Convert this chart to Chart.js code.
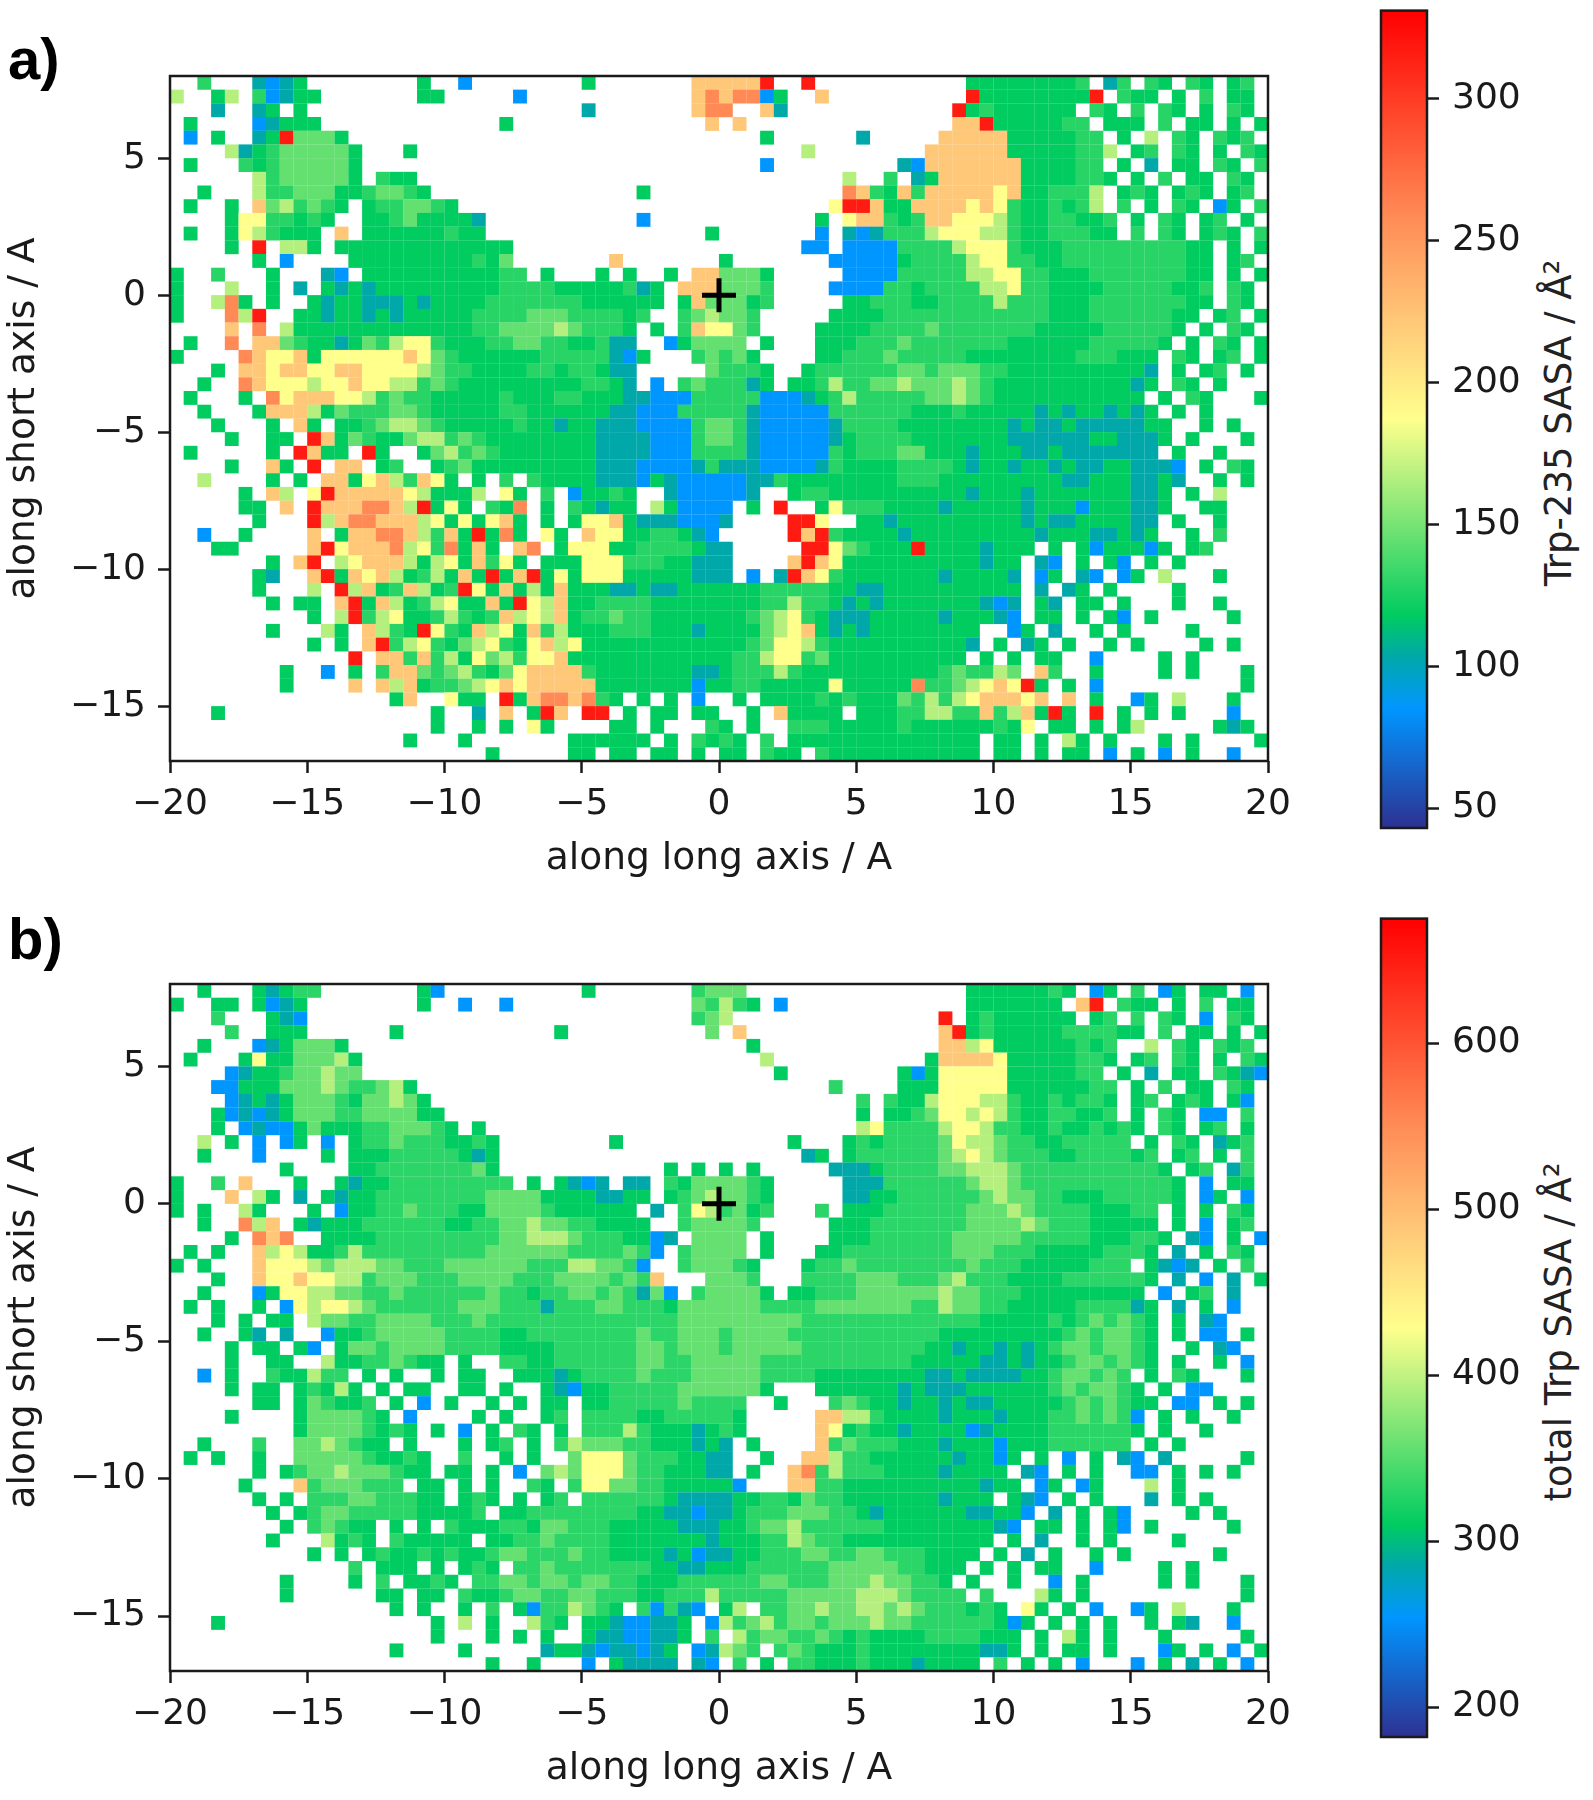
<!DOCTYPE html>
<html>
<head>
<meta charset="utf-8">
<style>
  body { margin: 0; background: #fff; width: 1593px; height: 1800px; position: relative; overflow: hidden; }
  canvas { position: absolute; }
  .panel { position: absolute; left: 8px; font: bold 58px "Liberation Sans", sans-serif; color: #000; line-height: 60px; }
  .cbar { position: absolute; font: 37px "DejaVu Sans", sans-serif; color: #222; white-space: nowrap; transform: translate(-50%, -50%) rotate(-90deg); }
</style>
<script src="https://cdn.jsdelivr.net/npm/chart.js@4"></script>
</head>
<body>
<div class="panel" style="top:29px">a)</div>
<div class="panel" style="top:909px">b)</div>
<div class="cbar" style="left:1558px;top:423px">Trp-235 SASA / Å²</div>
<div class="cbar" style="left:1558px;top:1332px">total Trp SASA / Å²</div>
<canvas id="heatA" style="left:0;top:0"></canvas>
<canvas id="barA" style="left:1300px;top:-24px"></canvas>
<canvas id="heatB" style="left:0;top:908px"></canvas>
<canvas id="barB" style="left:1300px;top:884px"></canvas>
<script>
// tick labels
const longAxisTicks = [-20, -15, -10, -5, 0, 5, 10, 15, 20];
const shortAxisTicks = [-15, -10, -5, 0, 5];
const barTicksA = [50, 100, 150, 200, 250, 300];
const barTicksB = [200, 300, 400, 500, 600];

// colour bar ranges
const rangeA = [43, 331];
const rangeB = [182, 675];

// SASA value for each letter used in the rows below
const codes = 'btghmlyorR';
const valuesA = [85, 103, 118, 129, 145, 167, 187, 222, 259, 317];
const valuesB = [254, 285, 310, 330, 357, 394, 428, 488, 552, 650];

// colour map, position along the bar and colour
const cmapPos = [0, 0.146, 0.21, 0.26, 0.5, 0.62, 0.75, 1];
const cmapRgb = [[46,49,146],[0,150,255],[0,168,168],[0,204,96],[255,255,140],[255,200,120],[255,138,85],[255,0,0]];

// cell size in angstrom, first cell is top left
const cellSize = 0.5;
const crossX = [0];
const crossY = [0];

// a) Trp-235 SASA, one string per row from y=8 downwards, groups of 10 cells
const rowsA = [
"..h...tbtg ........g. .b........ g.......oo oooR..R... ........gg ggggggh.th .hg.hg.gh.",
"l..gl.hbtg g.......gg .....b.... ........or orrbg..o.. ........Rg gggggggR.h gg.g.h.gg.",
"...t..tg.g .......... .......... t.......or r..ot..... .......Rgh gggggg.hg. h.hg.g.hg.",
".g....btgg g......... ....g..... .........o .o........ .......ooR ggggghh.gg g.h.gg.g.g",
".b.g..tgRm mmg....... .......... .......... ...g...... t.....oooo oggggghh.g .l.hg.hgh.",
"....ltghmm mmmg...g.. .......... .......... ......l... .....ooooo oggggghhl. gh.hg.g.hg",
".g...hghmm mmmg...... .......... .......... ...b...... ...tbooooo oogggghh.g .t.gg.hg.h",
"......lhmm mmmg.hgg.. .......... .......... .........l ..h.tgoooo oogggghhg. g.h.gg.hg.",
"..g...lhhm mmgghmmhg. .......... ....g..... .........r ohgohooooo yogghhhl.g hg.ghg.gh.",
".g..g.omlh mhg.ghhmmh g......... .......... ........yR Roggooooyo yhgghghl.h .g.hg.bg.h",
"....gyyhhg hg..gghmgg ggt....... ....b..... .......g.y oohghooyyy lhgghhggh. g.hg.gh.g.",
".g..gylhgg g.o.gggggg hgg....... .........g .......b.t bthhhlyyyl lhgghhhgg. h.hg.ghg.h",
"....g.R.ll g.gggggggg ggggg..... .......... ......bb.b bbbhhhhlyy yhggghhhhh hhhhgg.g.g",
"......g.b. ...ggggggg gghgm..... ..o....... g.......bb bbbghhhhly yhhgghhhhh hhhhgg.gh.",
"g..h...g.. .tb.gggggg gggghh.g.. .g.g..g.oo mmmg.....b bbbhhhhhll yyhhggghhh hhhhgg.g.g",
"g...l..g.t .gtgtggggg gggghhhhgg ggghtg.ooo mmmh....bb bbhhghhhhl lyhhgggghh hhhggh.hg.",
"g..lrg.g.. gtggtttgtg ggghhhhhhh gggggg.gom mmgh.....g ghhhgghhhh lhhhggghhh hhhhgg.hg.",
"g...rlR..g gtggtgtggg gghhhhmmmh hhhgh..hml mmh.....gg gghhhhhhhh hhhhggghhh hhhgg.gh.g",
"....o.r.lg gggggggggg gghhmmmmlm hhhg.g.hoy ymh....ggg ghhhhmhhhh hhhggggghh hhhg.g.hg.",
".g..r.oomh ggtgmhlyyh ggghhmmhhg ghtt..bgmm mm.g...ggg hhhmhhhhhh hgggggghhh hhg.g.hg.g",
"g....royyo gyyyyyyoym hgggggghhh hhtbg...hm hmg....ggh hhmhhhhhgg gggggghhhg gg.hg.gh.g",
"...g.ooyoo yyooyyyylm hhgggghhgh hgtt.....m hhhg..ghhh hhhmmhmmmh hggggggggg gt.g.gh.g.",
"..g..royyy lyyoyyllhm hggggggggg hhgt.b.hmh hhtg.gghlh hmmlmmmlmh gggggggggg tg.hg.g...",
".g...g.ryo ooyylhmhhg gggghggghh gggttbbbhh hhhbbbtghl hhhhhmmlmh gggggggggg g.g.hg...g",
"..g...gooo lgmhhhmmhg gggghhgggg ggttbbbhhh hhtbbbbbhh hhhhggghgg gggtgtggtg tg.g.g....",
"...g...g.o g.gghmllmh ggggghggtg gtttbbbbhm mhtbbbbbth hhhggggggg gtgttgtttt tgg..g.g..",
"....g..gg. Rogmhggmll hmhggggggg gttttbbbhm mhtbbbbbtg hhhhgggggg gttttttggt ttg.g...g.",
".g.....g.R ogg.Rg..gm lhmhgggggg gttttbbbhh hhtbbbbbhg hhhmmgggtg ggttgttttt tt.g..g...",
"....g..og. R.oo.gh..g hmgggggggg gtttbbbbth tttbbbbthg ggghhhhgtg gtggtgttgg tttb.g.hg.",
"..l....g.g .oogyolhoy g.g.h.hggg gtttbgtbbb bbtthggggg ggghhhgggg gggggttggg ttgt..g.g.",
".....g.ol. yRoooooylg ggl.yg.h.b gghg..tbbb bbt..ghhgg ggggggggtg ggtggggggg ttg.g.l...",
".....gg.o. RooorrolRg yg.hgr.g.h gtgg.lgbbb b.g.R..gyh hhggggtggg ggtgggbggg ttg..gg...",
"......g... Rlorroooly gygyog.g.g yyogtttbbb t....RRy.. ggtggggggg ggtgttgggg tt.g..g...",
"..b..g.... o.goorrolh ogRgrg.yg. oyygghhgtb .....RoRhg gggtgggggg gggtgggttg tg..g.h...",
"...gg..... oRyooorlyh rgog.or.gy yygghhhhgt t.....RRym hgggRggggt ggg.g.gbgg gbg.gh....",
".......g.o R.lyooolgl ygohyg.ggg yyyhhhggtt t....oRoyg gggggggggt gg.tb.g.gb .g.g......",
"......gt.. oRgoyolghl gogRgoRgyg yyygggggtt t.b.tRoyhg ggggggtggg gt.bg.tb.b g.l...g...",
"......g... l.Rlogholg hRygoglgog ggttgttggg ggghhhhhgg ttgggggggg gg.t.tg.g. ...g......",
".......g.g g.oRgolghl yggogRylog ghhhhggggg ggghhlhhgt gtgggggggt bt.gt.gg.g ...g..g...",
".......... g.lRhlyggh lhgholylog hhmhhggggg gghmlyhgtt tgggggtggg tb.gg.g.gb .g.....g..",
".......g.. .lg.olhgRy hgolygohlg gghhhgggtg gggmlyogtg tgggggggg. .bg.t..g.g ....g.....",
".......... g.g.oRhlyh gmlyhgyoly gggggggggg gghmyylhgg ggggggggt. g.tg.g..g. g....g.g..",
".......... ...R.oohoh lgymlhyyog gggggggggg ghhlyyhmgg gggggggg.g .g.gg..b.. ..g.g.....",
"........g. .b.g.hoomh mlhgmyoooo hgggggggtt ghhhlhgggg gggggghmhh lm.oh..g.. ..g.g...g.",
"........g. ...o.ologh hmlyoyoooo ogggggggbg ghhgggggyg ggggrhhmly oyRg.g.b.. ........g.",
".......... ......go.. ygg.Rgorro rhg.g.g.b. .g.gggghgh gggmhlhlyo ooyo.o.g.. bg.l...g..",
"...g...... .........g ..t.o.gRo. RR.g.gg.gg ..g.ogggg. ggghhllhho hlogRg.R.g .g.g...b..",
".......... .........g ..g.g.yg.. ..gg.g...h g.g..hhhgg ggghgggggg hgy.gg.g.g l.....gtg.",
".......... .......g.. .g.......g ggggg.g.hg hg.h.ggggg ggggggggg. gg.g.lg.g. ..g.g....g",
".......... .......... ...g.....g g.gg.gg.g. gg.hgg.hgg ggggggggg. gg.g.gg.b. g.b.g..b.."
];

// b) total Trp SASA, same layout
const rowsB = [
"..g...gtgh h.......gb .......... g.......hm mm........ ........gg gggghg.bg. h.bg.gg.b.",
"g..gg.gbtg ........g. .b..b..... ........mh lhg.b..... ........gg ggggg.oR.h gg.g.h.gg.",
"...h...gtb .......... .......... ........hm l......... ......R.gh gggggg.gh. h.hg.b.hg.",
"....h..ggg ......g... ........g. .........m .o........ ......oRgh ggggghhhhg g.h.gg.g.g",
"..g...btgm mmg....... .......... .......... ..g....... ......ooly gggggghgh. .l.hg.hgh.",
".g...gyggm mmlg...... .......... .......... ...l...... .....goooo yggggghhg. gh.hg.g.hg",
"....btgghm mlmm...... .......... .......... ....g..... ...gbgyyyy yggggghh.g .t.gg.hgtb",
"...bbgggmm mlmhhmlg.. .......... .......... ........h. ...gggyyyy ygggggghh. g.h.gg.hg.",
"....btgtgm mmhgmmlmg. .......... .......... .......... h.hgglyyyl lhgghghhg. gh.ghg.gb.",
"...gbtbtgm mmhhmmmmgg .......... .......... .......... g.gghmyyly lhgghhggh. g.hg.bb.h.",
"...g.btbbg mggghhmmmh g.g....... .......... .......... lyhhhhlyyl hhgghgghgh g.hg.gh.g.",
"..l.g.b.bg .b.ghhmhhh gghg...... ..g....... .....g...g hghhhhmyll mhhgghhhhh .g.hg.tgh.",
"..g...b... .g.ggghhhh hgtg...... .......... ......tg.g hhhhhhmlyl mhhhgghhhh gh.gh.g.h.",
"........g. ...gghhhhh hhmg...... ......g.g. g.g.....tt tghhhhmmll lmhhhhhhhh hhg.gh.th.",
"g..h.o...g ..gtgghhhh hhhhh.g.gt bt.tt.hgmm mmhg.....t tthhhhhhml lmhhhhhhhh hhhg.b.gg.",
"g...o.lg.t .gtgghhhhh hhhmmmmggg gttgg.ghml mmhg.....t tgghhhhhhm lmmhhggghh hhhg.bg.b.",
"g.g..lg... g.bgghhmhh hggmmmmhgg gggg.t.hyl hmgh...h.g gghhhhhhmm mlmhhhhggg hh.g.g.hg.",
"..g..rlo.g tggghhhhhh gghhmmlmmh hgggg..hmm mmh.....gg ghhhhhhhmm mmlmhhhggg gg.g.b.gh.",
"....g.ror. .gggghhhhh hhhhmmlllm hhhggbt.mm mm.g....gg ghhhhhhmmm mmhhhhhggg hhg.tb.g.b",
".g.g..olyl gghlhhhhhh hhhmmmmmmh hhhmhb.hmm mm.g...ggh hhhhhhhmmm hhhggggghh hg.t.g.hg.",
"g.g...oyyy lmlllmmhhh mmmmmmhhhl lmmhb..hmm mhg...ghhm hhhhhhhhmh hhggggghhh .gtbt.g.h.",
"...g..oyyo yyllhmmmhh hmmmmhhhmm mmhmho...m mmh...hhhh mmmhhhmlhh hgggghhhhh hg.t.b.t.g",
"..g...bgyy llmmhhmhhh hhhmhhghhm mhmhtmb.hm mmmg.gghhh mmmmmmlmmh hhgggggggg g.b.gh.t..",
".g.g..g.by lyylmhhhhh hmmmhhhthh hmmhhhgmmm mmmhhhhmmm mmmmhhlmmh hggggghhhh tg.t.g.b..",
"...g.g.gg. lmmhhmmmmh hhmhhhhhhh hhhhhhhmmm mmmmmmhhhh hhhhhhhhhg gggghghmhm hg.g.tb...",
"..g..gt.t. .bgghmmmmm hhhhgghhhh hhhhmhhmmm hmmmmhhhhh hhhhhhgggg ggggghmhmm hg.g.bb.g.",
"....g.gg.g b.gmmhmmmm hhhhgggghh hhhhmmhmmm hmmmmmhhhh hhhhhggtgg tgtghmmhmm hg..g.tb..",
"....g..gg. .lgghhmhgg .g..hhgghh hhhhmmhhmm mmmhhhhhhh hhhhgggggt tgtgghmmhm hg.g..g.b.",
"..b.g..hgg lhh.g.g..g .gg..gggtg hhhhmhhhmm mmmhhhhggg gggggttgtt ttgghmmhmh .g.hg...g.",
"....g.gg.g hglg.g.gg. .gg.g..gtb gghhhhhmmm mmmg...ggg gggtgtttgg gggghmhmmh g.g.bb....",
"......gg.g mhggh.g.b. g..g.g.gg. gghhhhhmhh hh..g...hm hggtggtgtt ggggghmhmh gg.bb.g.g.",
"....g....g mmmmhg.b.. ..g.g..gh. hhhhgghhhh hg.....ool lhggggtggg tggghhmhmh b.g.g..g..",
".........g mmmmhghg.g .b.g.hg.g. hhhlhgggtg hg.....oyg hggtggggbt gggghhhhhh g.g..g....",
"..g...h..m mlmhgg.g.. .g.gh.g.hl mmmhhgggtg t.g....ohm hhhgggtggg bggghhhhhh .g.g......",
".g.g..g..m mmmmhgghg. .h..g.g..m yyymhhhggt t..g..oolh hggggggtgg bg.g.b.g.t b.t.....g.",
"......g.gh mmlmmmhgg. gg.g.b.mlm yyymhhgggt t.g..orhlh hhggggtggg g.tb.g.g.. bb.g.g.g..",
".....g...o hmmmhhh.gg .g.g..hg.h yymmhhgggg gb...oohhg gggggggggt gg.bg.bg.. .l.g......",
"......g.g. hhhmmhhhgg .ghg.g.gh. hhhhhhgttt tgghhgmhhg ggggggtggg .gtb.g.g.. .t.g.g....",
".......g.g hmmhhhhhgg ggh.gghhhh hhhhggttbt tghhhmmmhh gtggggggtt ggb.t.g.gb ....g.g...",
"........g. hmhgg.g.g. hggghhgmmh hhgggggttt gghmmlhhhh hhgggggggg tb.gg.g.gb .g.....g..",
".......g.. .lghg.hggg gg.gghhmhh hhgggggggt ggghhlmhhg gggggggggg .g.t..g.g. ...g......",
".......... g.g.ghgghg hgghmmhhhm hhggggtgbt tgghhhmmhh mmhhhgggg. g.t.g..g.g ......g...",
".......... ...h.ggg.g .ghg.hhmhh hhhhhggttg gghhhhhhmm mmmhhggg.g .g.gg..b.. ..g.g.....",
"........g. ...g.h.ggh g.hhmmhmmh mmhhggghhh hhhmmhhhmm mlmmhhg.g. .g..b.g... ..g.g...g.",
"........g. .....gg.gg .hgghmmhhm mhhhgghhhl hhhhhmmmmm lllmhhhh.h ...lg.g... ........g.",
".......... ......g.g. .g.h.gbhhl mhg.hbhtb. gl.hhmmlmm llmlmhhhgh g.yg.g.b.. bg.l...g..",
"...g...... .........g .l.g..lhg. ggtbbttg.b lhmlhmmhmm mlmmhhhhhh gbg.g.g.g. .g.gt..b..",
".......... .........g ...g.g.g.. gttbbttg.h .lhmmhhmhg hgggghhhhg gg.g.lg.g. ..g.....g.",
".......... ......g... .g.....tgg tbttbtg.bt lmh.hmhggg hggggggggt tg.g.gg.g. ..bg.g.b.g",
".......... .......... ...g..g... b.gtttt.tb .h.g.hhggg hgggtgggg. h.g.g.b... b.g.t.g.b."
];

const inkColor = '#1a1a1a';

function colorFor(value, range) {
    const t = Math.min(1, Math.max(0, (value - range[0]) / (range[1] - range[0])));
    let i = 0;
    while (i < cmapPos.length - 2 && t > cmapPos[i + 1]) i++;
    const f = (t - cmapPos[i]) / (cmapPos[i + 1] - cmapPos[i]);
    const c = cmapRgb[i].map((a, k) => Math.round(a + (cmapRgb[i + 1][k] - a) * f));
    return `rgb(${c[0]},${c[1]},${c[2]})`;
}

function rowsToCells(rows, values) {
    const cells = [];
    rows.forEach((row, j) => {
        row.split(' ').forEach((group, g) => {
            [...group].forEach((ch, k) => {
                const idx = codes.indexOf(ch);
                if (idx < 0) return;
                cells.push({
                    x: longAxisTicks[0] + (g * 10 + k + 0.5) * cellSize,
                    y: 8 - (j + 0.5) * cellSize,
                    v: values[idx]
                });
            });
        });
    });
    return cells;
}

// black box round the plot area
const framePlugin = {
    id: 'frame',
    afterDatasetsDraw(chart) {
        const a = chart.chartArea;
        const ctx = chart.ctx;
        ctx.save();
        ctx.strokeStyle = inkColor;
        ctx.lineWidth = 2.5;
        ctx.strokeRect(a.left, a.top, a.right - a.left, a.bottom - a.top);
        ctx.restore();
    }
};

function tickOptions(size, pad) {
    return { color: inkColor, font: { family: 'DejaVu Sans', size: size }, padding: pad, autoSkip: false, maxRotation: 0,
        callback: v => String(v).replace('-', '\u2212') };
}
const tickGrid = { drawOnChartArea: false, drawTicks: true, tickLength: 12, tickWidth: 2.5, tickColor: inkColor };

function heatmap(id, width, height, rows, values, range) {
    const el = document.getElementById(id);
    el.width = width; el.height = height;
    el.style.width = width + 'px'; el.style.height = height + 'px';
    new Chart(el, {
        type: 'scatter',
        data: {
            datasets: [{
                data: crossX.map((x, i) => ({ x: x, y: crossY[i] })),
                pointStyle: 'cross',
                pointRadius: 17,
                pointBorderColor: '#000',
                pointBorderWidth: 5,
                order: 0
            }, {
                data: rowsToCells(rows, values),
                pointStyle: 'rect',
                pointBorderWidth: 0,
                pointRadius: ctx => {
                    const x = ctx.chart.scales.x;
                    return Math.abs(x.getPixelForValue(cellSize) - x.getPixelForValue(0)) / Math.SQRT2 + 0.1;
                },
                pointBackgroundColor: ctx => ctx.raw ? colorFor(ctx.raw.v, range) : '#fff',
                order: 1
            }]
        },
        options: {
            responsive: false,
            animation: false,
            devicePixelRatio: 1,
            layout: { padding: { top: 76, right: 92, left: 0, bottom: 0 } },
            plugins: { legend: { display: false }, tooltip: { enabled: false } },
            scales: {
                x: {
                    type: 'linear', min: -20, max: 20,
                    afterFit: s => { s.height = 125; },
                    afterBuildTicks: s => { s.ticks = longAxisTicks.map(v => ({ value: v })); },
                    ticks: tickOptions(36, 10),
                    grid: tickGrid,
                    border: { display: false },
                    title: { display: true, text: 'along long axis / A', color: inkColor, font: { family: 'DejaVu Sans', size: 37.6 }, padding: { top: 0, bottom: 4 } }
                },
                y: {
                    type: 'linear', min: -17, max: 8,
                    afterFit: s => { s.width = 170; },
                    afterBuildTicks: s => { s.ticks = shortAxisTicks.map(v => ({ value: v })); },
                    ticks: tickOptions(36, 12),
                    grid: tickGrid,
                    border: { display: false },
                    title: { display: true, text: 'along short axis / A', color: inkColor, font: { family: 'DejaVu Sans', size: 37.6 }, padding: { top: 2, bottom: 0 } }
                }
            }
        },
        plugins: [framePlugin]
    });
}

function colorBar(id, range, barTicks, height) {
    const el = document.getElementById(id);
    el.width = 293; el.height = height;
    el.style.width = '293px'; el.style.height = height + 'px';
    new Chart(el, {
        type: 'bar',
        data: {
            labels: [''],
            datasets: [{
                data: [range],
                barPercentage: 1,
                categoryPercentage: 1,
                backgroundColor: ctx => {
                    const area = ctx.chart.chartArea;
                    if (!area) return colorFor(range[0], range);
                    const g = ctx.chart.ctx.createLinearGradient(0, area.bottom, 0, area.top);
                    cmapPos.forEach((p, i) => g.addColorStop(p, `rgb(${cmapRgb[i].join(',')})`));
                    return g;
                }
            }]
        },
        options: {
            responsive: false,
            animation: false,
            devicePixelRatio: 1,
            layout: { padding: { top: 28, right: 46, left: 81, bottom: 52 } },
            plugins: { legend: { display: false }, tooltip: { enabled: false } },
            scales: {
                x: { display: false },
                y: {
                    position: 'right',
                    min: range[0], max: range[1],
                    afterFit: s => { s.width = 120; },
                    afterBuildTicks: s => { s.ticks = barTicks.map(v => ({ value: v })); },
                    ticks: tickOptions(36, 13),
                    grid: tickGrid,
                    border: { display: false }
                }
            }
        },
        plugins: [framePlugin]
    });
}

heatmap('heatA', 1360, 886, rowsA, valuesA, rangeA);
heatmap('heatB', 1360, 888, rowsB, valuesB, rangeB);
colorBar('barA', rangeA, barTicksA, 904);
colorBar('barB', rangeB, barTicksB, 905);
</script>
</body>
</html>
